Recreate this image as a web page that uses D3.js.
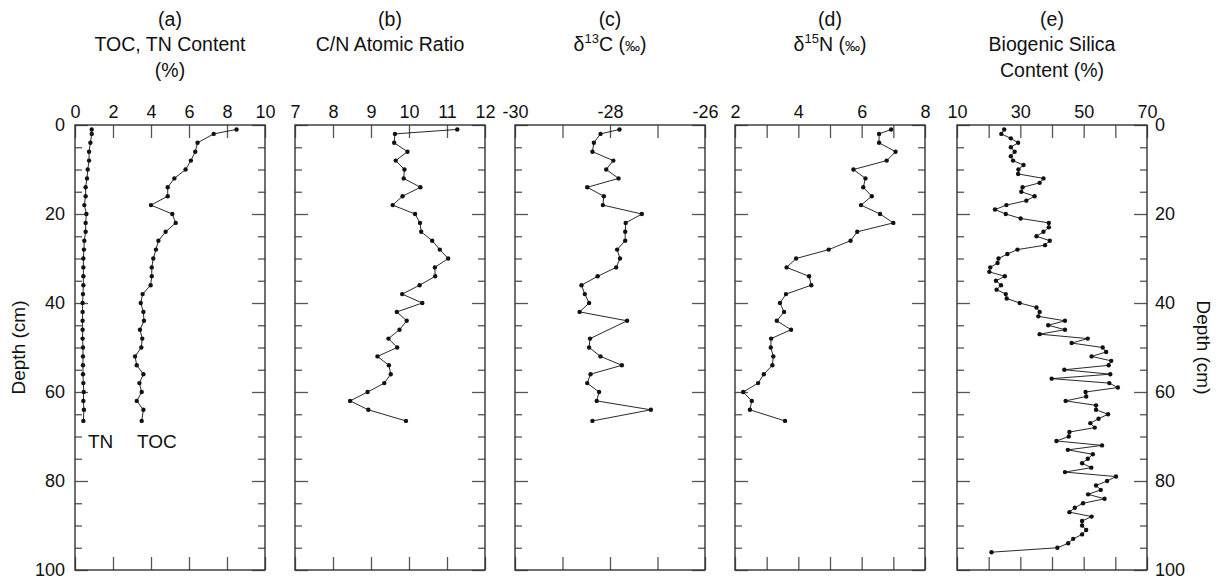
<!DOCTYPE html>
<html><head><meta charset="utf-8">
<script src="https://cdn.jsdelivr.net/npm/d3@7"></script>
<style>body{margin:0;background:#fff} text{font-family:"Liberation Sans",Arial,Helvetica,sans-serif;fill:#111}</style>
</head><body><svg id="chart" width="1221" height="584"></svg>
<script>
// ---- data ----
const depthCore = [1,2,4,6,8,10,12,14,16,18,20,22,24,26,28,30,32,34,36,38,40,42,44,46,48,50,52,54,56,58,60,62,64,66.5];
const tnValues  = [0.88,0.88,0.81,0.74,0.74,0.67,0.63,0.56,0.56,0.49,0.6,0.56,0.56,0.49,0.47,0.44,0.44,0.44,0.44,0.42,0.4,0.4,0.4,0.4,0.4,0.42,0.42,0.42,0.42,0.44,0.46,0.44,0.47,0.44];
const tocValues = [8.5,7.3,6.45,6.33,6.1,5.82,5.23,4.88,4.88,4.0,5.12,5.3,4.77,4.39,4.26,4.12,4.04,4.04,3.98,3.56,3.46,3.6,3.63,3.42,3.54,3.49,3.16,3.25,3.6,3.39,3.51,3.25,3.6,3.51];
const cnValues  = [11.27,9.63,9.61,9.96,9.65,9.88,9.86,10.30,9.83,9.57,10.16,10.29,10.32,10.61,10.81,11.03,10.68,10.69,10.28,9.82,10.35,9.68,9.94,9.75,9.46,9.69,9.17,9.47,9.52,9.35,8.91,8.45,8.93,9.92];
const depthC13  = [1,2,4,6,8,10,12,14,16,18,20,22,24,26,28,30,32,34,36,38,40,42,44,48,50,52,54,56,58,60,62,64,66.5];
const c13Values = [-27.80,-28.20,-28.34,-28.37,-27.93,-28.08,-27.82,-28.48,-28.13,-28.15,-27.33,-27.67,-27.68,-27.68,-27.85,-27.79,-27.87,-28.26,-28.60,-28.53,-28.44,-28.64,-27.64,-28.42,-28.44,-28.20,-27.75,-28.41,-28.48,-28.23,-28.28,-27.14,-28.37];
const n15Values = [6.93,6.55,6.55,7.07,6.79,5.74,6.12,6.05,6.32,5.98,6.58,7.00,5.86,5.65,4.96,3.93,3.63,4.34,4.41,3.61,3.42,3.55,3.32,3.77,3.14,3.13,3.21,3.18,2.91,2.73,2.26,2.53,2.47,3.58];
const depthBSi  = [1,2,3,4,5,6,7,8,9,10,11,12,13,14,15,16,17,18,19,20,21,22,23,24,25,26,27,28,29,30,31,32,33,34,35,36,37,38,39,40,41,42,43,44,45,46,47,48,49,50,51,52,53,54,55,56,57,58,59,60,61,62,63,64,65,66,67,68,69,70,71,72,73,74,75,76,77,78,79,80,81,82,83,84,85,86,87,88,89,90,91,92,93,94,95,96];
const bsiValues = [24.9,24.0,27.0,29.3,27.0,28.2,27.0,27.7,31.0,29.4,29.3,37.3,36.1,30.7,30.3,34.5,31.9,25.6,22.0,25.4,
  30.1,39.0,39.0,37.3,35.1,39.3,37.8,29.1,25.9,23.1,22.8,20.5,20.2,25.1,22.3,23.9,22.5,25.4,25.7,29.8,
  35.1,36.1,35.7,44.1,38.8,44.1,36.1,51.3,46.2,56.0,57.1,52.5,58.7,57.9,43.9,58.4,39.9,58.1,60.8,50.6,
  50.8,44.3,53.9,53.9,57.7,54.7,52.1,53.5,45.5,45.3,41.4,55.8,45.0,52.9,51.3,49.5,52.4,44.1,60.2,57.4,
  53.9,55.4,51.4,56.6,49.8,47.2,45.5,52.5,49.5,49.5,50.8,49.5,46.7,45.1,41.7,20.9];

const depthMajor = [0,20,40,60,80,100];
const depthMinor = [5,10,15,25,30,35,45,50,55,65,70,75,85,90,95];
const ticksA = [0,2,4,6,8,10],           labelsA = [0,2,4,6,8,10];
const ticksB = [7,8,9,10,11,12],         labelsB = [7,8,9,10,11,12];
const ticksC = [-30,-29,-28,-27,-26],    labelsC = [-30,-28,-26];
const ticksD = [2,3,4,5,6,7,8],          labelsD = [2,4,6,8];
const ticksE = [10,20,30,40,50,60,70],   labelsE = [10,30,50,70];

// ---- layout ----
const svg = d3.select("#chart");
const yTop = 125, yBot = 570, pw = 190;
const y = d3.scaleLinear().domain([0,100]).range([yTop,yBot]);
const FS = 18, TFS = 19.5;

const panels = [
  {x0:75,  dom:[0,10],    ticks:ticksA, labels:labelsA, series:[[depthCore,tnValues],[depthCore,tocValues]], title:["(a)","TOC, TN Content","(%)"]},
  {x0:295, dom:[7,12],    ticks:ticksB, labels:labelsB, series:[[depthCore,cnValues]], title:["(b)","C/N Atomic Ratio"]},
  {x0:515, dom:[-30,-26], ticks:ticksC, labels:labelsC, series:[[depthC13,c13Values]], title:["(c)","d13C"]},
  {x0:735, dom:[2,8],     ticks:ticksD, labels:labelsD, series:[[depthCore,n15Values]], title:["(d)","d15N"]},
  {x0:957, dom:[10,70],   ticks:ticksE, labels:labelsE, series:[[depthBSi,bsiValues]], title:["(e)","Biogenic Silica","Content (%)"]}
];

panels.forEach((p,i)=>{
  const x = d3.scaleLinear().domain(p.dom).range([p.x0, p.x0+pw]);
  const g = svg.append("g");
  const fmt = d => p.labels.includes(d) ? String(d) : "";

  const ax = g.append("g").attr("transform",`translate(0,${yTop})`)
    .call(d3.axisTop(x).tickValues(p.ticks).tickSize(-13).tickPadding(7).tickFormat(fmt));
  const bx = g.append("g").attr("transform",`translate(0,${yBot})`)
    .call(d3.axisBottom(x).tickValues(p.ticks).tickSize(-13).tickFormat(""));
  const lMaj = g.append("g").attr("transform",`translate(${p.x0},0)`)
    .call(d3.axisLeft(y).tickValues(depthMajor).tickSize(-13).tickPadding(10).tickFormat(i===0? d=>String(d) : ""));
  const lMin = g.append("g").attr("transform",`translate(${p.x0},0)`)
    .call(d3.axisLeft(y).tickValues(depthMinor).tickSize(-7).tickFormat(""));
  const rMaj = g.append("g").attr("transform",`translate(${p.x0+pw},0)`)
    .call(d3.axisRight(y).tickValues(depthMajor).tickSize(-13).tickPadding(8).tickFormat(i===4? d=>String(d) : ""));
  const rMin = g.append("g").attr("transform",`translate(${p.x0+pw},0)`)
    .call(d3.axisRight(y).tickValues(depthMinor).tickSize(-7).tickFormat(""));
  [ax,bx,lMaj,lMin,rMaj,rMin].forEach(a=>{
    a.select(".domain").remove();
    a.selectAll("line").attr("stroke","#555").attr("stroke-width",1.3);
    a.selectAll("text").attr("font-size",FS).attr("fill","#111")
      .attr("font-family",'"Liberation Sans",Arial,sans-serif');
  });

  g.append("rect").attr("x",p.x0).attr("y",yTop).attr("width",pw).attr("height",yBot-yTop)
    .attr("fill","none").attr("stroke","#333").attr("stroke-width",1.4);

  p.series.forEach(([ds,vs])=>{
    const pts = ds.map((d,k)=>[x(vs[k]), y(d)]);
    g.append("path").attr("d", d3.line()(pts)).attr("fill","none").attr("stroke","#111").attr("stroke-width",0.9);
    g.selectAll(null).data(pts).join("circle").attr("cx",d=>d[0]).attr("cy",d=>d[1]).attr("r",2.2).attr("fill","#111");
  });

  const cx = p.x0 + pw/2;
  const baselines = [26, 51, 77];
  p.title.forEach((t,k)=>{
    const tx = g.append("text").attr("x",cx).attr("y",baselines[k]).attr("text-anchor","middle").attr("font-size",TFS);
    if (t === "d13C" || t === "d15N") {
      tx.append("tspan").text("\u03B4");
      tx.append("tspan").attr("font-size",13).attr("dy",-8).text(t==="d13C"?"13":"15");
      tx.append("tspan").attr("dy",8).text(t==="d13C"?"C (":"N (");
      tx.append("tspan").attr("font-size",15).text("\u2030");
      tx.append("tspan").text(")");
    } else {
      tx.text(t);
    }
  });
});

svg.append("text").attr("x",88).attr("y",448).attr("font-size",19).text("TN");
svg.append("text").attr("x",137).attr("y",448).attr("font-size",19).text("TOC");

svg.append("text").attr("transform",`translate(25,${(yTop+yBot)/2}) rotate(-90)`).attr("text-anchor","middle").attr("font-size",19).text("Depth (cm)");
svg.append("text").attr("transform",`translate(1197,${(yTop+yBot)/2}) rotate(90)`).attr("text-anchor","middle").attr("font-size",19).text("Depth (cm)");
</script>
</body></html>
